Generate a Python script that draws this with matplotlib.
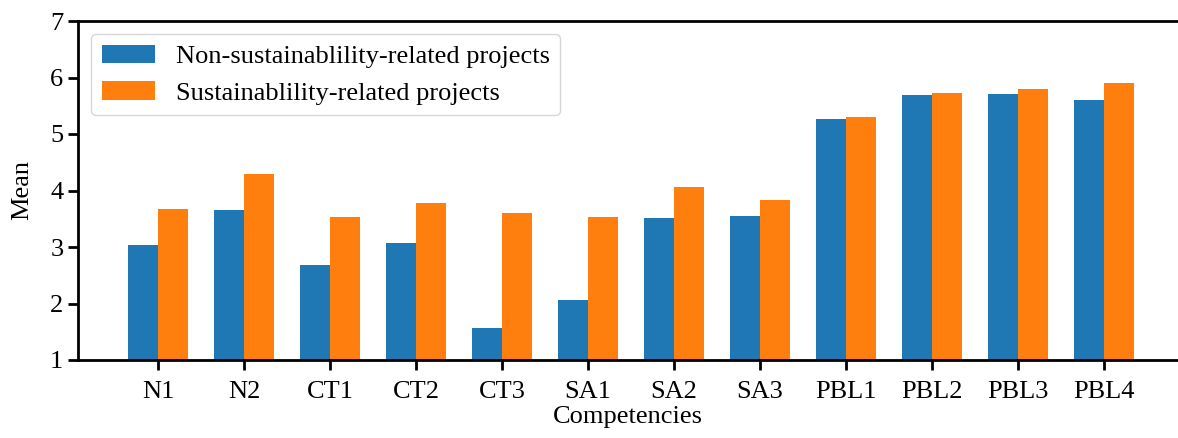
import numpy as np
import matplotlib
matplotlib.use("Agg")
import matplotlib.pyplot as plt

plt.rcParams['font.family'] = ['Liberation Serif', 'DejaVu Serif']

competencies = ['N1', 'N2', 'CT1', 'CT2', 'CT3', 'SA1', 'SA2', 'SA3',
                'PBL1', 'PBL2', 'PBL3', 'PBL4']
non_sust = [3.04, 3.66, 2.69, 3.07, 1.56, 2.07, 3.52, 3.54, 5.27, 5.69, 5.71, 5.61]
sust = [3.67, 4.29, 3.53, 3.77, 3.60, 3.53, 4.07, 3.84, 5.30, 5.73, 5.80, 5.90]

x = np.arange(len(competencies))
width = 0.35

fig = plt.figure(figsize=(11.78, 4.38), dpi=100)
ax = fig.add_axes([78 / 1178, 78 / 438, 1.0 - 78 / 1178, 339 / 438])

ax.bar(x - width / 2, non_sust, width, bottom=0, color='#1f77b4',
       label='Non-sustainablility-related projects')
ax.bar(x + width / 2, sust, width, bottom=0, color='#ff7f0e',
       label='Sustainablility-related projects')

ax.set_ylim(1, 7)
ax.set_xlim(-0.93, 11.86)
ax.set_xticks(x)
ax.set_xticklabels(competencies)
ax.set_xlabel('Competencies', fontsize=19, labelpad=2)
ax.set_ylabel('Mean', fontsize=19, labelpad=12)
ax.tick_params(labelsize=19, width=2, length=7)
ax.tick_params(axis='x', pad=8)

for s in ['left', 'bottom', 'top']:
    ax.spines[s].set_linewidth(2)
ax.spines['right'].set_visible(False)

ax.legend(loc='upper left', fontsize=19)

fig.savefig('out.png', dpi=100)
